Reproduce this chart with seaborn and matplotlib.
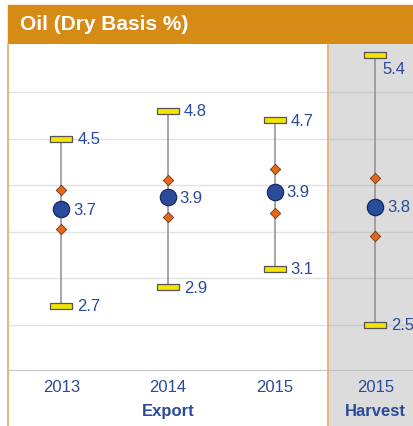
import pandas as pd
import seaborn as sns
import matplotlib.pyplot as plt
from matplotlib.patches import Rectangle
from matplotlib.lines import Line2D

# values
groups = ["2013", "2014", "2015", "2015 Harvest"]
panel = ["Export", "Export", "Export", "Harvest"]
max_vals = [4.5, 4.8, 4.7, 5.4]
min_vals = [2.7, 2.9, 3.1, 2.5]
mean_vals = [3.74, 3.87, 3.93, 3.77]
upper_ci = [3.95, 4.06, 4.17, 4.08]
lower_ci = [3.53, 3.66, 3.70, 3.45]

df = pd.DataFrame({"group": groups, "panel": panel, "max": max_vals, "min": min_vals,
                   "mean": mean_vals, "hi": upper_ci, "lo": lower_ci})

sns.set_theme(style="white")
plt.rcParams["font.family"] = ["Liberation Sans", "DejaVu Sans"]

BLUE = "#2a4a9a"
ORANGE = "#d78b17"
FS = 12
cap_marker = [(-2, -0.45), (2, -0.45), (2, 0.45), (-2, 0.45), (-2, -0.45)]

fig = plt.figure(figsize=(4.14, 4.27), dpi=100)
W, H = 414, 427
bot = (H - 372) / H
top = (H - 45) / H
split = 328 / W
left = 8 / W

# harvest grey background below the axes
fig.patches.append(Rectangle((split, 0), 1 - split, bot, transform=fig.transFigure,
                             color="#dcdcdc", zorder=-1))
# header band
fig.patches.append(Rectangle((left, top), 1 - left, (H - 6) / H - top,
                             transform=fig.transFigure, color=ORANGE, zorder=-1))
fig.text(20 / W, (H - 25) / H, "Oil (Dry Basis %)", color="white", fontsize=15,
         fontweight="bold", va="center", ha="left")

ax1 = fig.add_axes([left, bot, split - left, top - bot])
ax2 = fig.add_axes([split, bot, 1 - split, top - bot], sharey=ax1)
ax2.patch.set_facecolor("#dcdcdc")

# orange border lines
for xf in (left, split):
    fig.lines.append(Line2D([xf, xf], [0, top], transform=fig.transFigure,
                            color="#eeb062", lw=1.3, zorder=5))


def draw(ax, sub, gridc):
    ax.set_ylim(2.0, 5.52)
    for y in [2.5, 3.0, 3.5, 4.0, 4.5, 5.0]:
        ax.axhline(y, color=gridc, lw=1, zorder=0)
    ax.axhline(2.0, color="#c4c4c4", lw=1.5, zorder=0)
    x = list(range(len(sub)))
    ax.vlines(x, sub["min"], sub["max"], color="#8f8f8f", lw=1.1, zorder=1)
    long = pd.concat([
        pd.DataFrame({"x": x, "v": sub["max"].values}),
        pd.DataFrame({"x": x, "v": sub["min"].values}),
    ])
    sns.scatterplot(data=long, x="x", y="v", marker=cap_marker, s=260, color="#f4e400",
                    edgecolor="#555555", linewidth=0.9, ax=ax, zorder=3)
    ci = pd.concat([
        pd.DataFrame({"x": x, "v": sub["hi"].values}),
        pd.DataFrame({"x": x, "v": sub["lo"].values}),
    ])
    sns.scatterplot(data=ci, x="x", y="v", marker="D", s=28, color="#e5661c",
                    edgecolor="#6a3a15", linewidth=0.6, ax=ax, zorder=3)
    sns.scatterplot(x=x, y=sub["mean"].values, marker="o", s=140, color=BLUE,
                    edgecolor="#15235a", linewidth=0.8, ax=ax, zorder=4)
    for i, (_, r) in enumerate(sub.iterrows()):
        ax.annotate(f"{r['mean']:.1f}", (i, r["mean"]), xytext=(8.5, 0),
                    textcoords="offset points", va="center", ha="left",
                    color=BLUE, fontsize=FS)
        ax.annotate(f"{r['min']:.1f}", (i, r["min"]), xytext=(11.5, 0),
                    textcoords="offset points", va="center", ha="left",
                    color=BLUE, fontsize=FS)
        if r["max"] > 5.2:
            ax.annotate(f"{r['max']:.1f}", (i, r["max"]), xytext=(5, -9.5),
                        textcoords="offset points", va="center", ha="left",
                        color=BLUE, fontsize=FS)
        else:
            ax.annotate(f"{r['max']:.1f}", (i, r["max"]), xytext=(11.5, 0),
                        textcoords="offset points", va="center", ha="left",
                        color=BLUE, fontsize=FS)
    ax.set_xlabel("")
    ax.set_ylabel("")
    ax.set_yticks([])
    for s in ax.spines.values():
        s.set_visible(False)


exp = df[df["panel"] == "Export"].reset_index(drop=True)
har = df[df["panel"] == "Harvest"].reset_index(drop=True)
draw(ax1, exp, "#e2e2e2")
draw(ax2, har, "#c9c9c9")
ax1.set_xlim(-0.5, 2.5)
ax2.set_xlim(-0.55, 0.45)

ax1.set_xticks(range(3), ["2013", "2014", "2015"])
ax2.set_xticks([0], ["2015"])
for ax in (ax1, ax2):
    ax.tick_params(axis="x", length=0, pad=6, labelsize=FS, labelcolor=BLUE)
    ax.tick_params(axis="y", left=False, labelleft=False)

fig.text(168 / W, (H - 412) / H, "Export", color=BLUE, fontsize=FS,
         fontweight="bold", ha="center", va="center")
fig.text(375 / W, (H - 412) / H, "Harvest", color=BLUE, fontsize=FS,
         fontweight="bold", ha="center", va="center")

fig.savefig("out.png", dpi=100)
